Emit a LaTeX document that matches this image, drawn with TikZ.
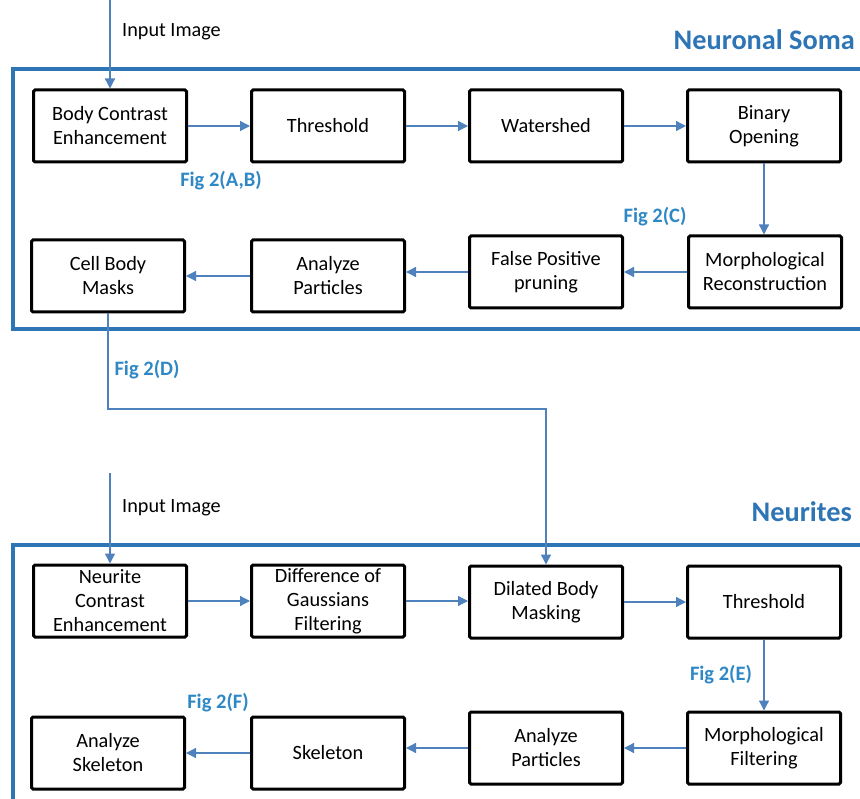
\documentclass[tikz,border=0pt]{standalone}
\usepackage{fontspec}
\setmainfont{Carlito}
\usetikzlibrary{arrows.meta,calc}
\definecolor{arrowblue}{HTML}{4F81BD}
\definecolor{frameblue}{HTML}{2E75B6}
\definecolor{labelblue}{HTML}{2E88C6}
\tikzset{
  stepbox/.style={draw=black, line width=3pt, rounded corners=1.5pt, minimum width=153pt, minimum height=72pt, align=center, font=\fontsize{20.3}{24}\selectfont, inner sep=2pt},
  arr/.style={draw=arrowblue, line width=1.3pt, -{Triangle[length=10pt,width=10pt]}},
  frame/.style={draw=frameblue, line width=3.2pt},
  figlabel/.style={text=labelblue, font=\bfseries\fontsize{20.5}{24}\selectfont, inner sep=0pt},
  title/.style={text=frameblue, font=\bfseries\fontsize{28.3}{32}\selectfont, inner sep=0pt, anchor=east},
  inlabel/.style={font=\fontsize{20.2}{24}\selectfont, inner sep=0pt, anchor=west}
}
\begin{document}
\begin{tikzpicture}[x=1pt,y=-1pt]
\clip (0,0) rectangle (860,799);
\fill[white] (0,0) rectangle (860,799);
% frames
\draw[frame] (880,69) -- (13,69) -- (13,329) -- (880,329);
\draw[frame] (880,545) -- (13,545) -- (13,830);
% titles
\node[title] (t1) at (855,40) {Neuronal Soma};
\node[title] (t2) at (852,512) {Neurites};
% top section
\node[stepbox] (bce) at (110,126) {Body Contrast\\Enhancement};
\node[stepbox] (thr) at (328,126) {Threshold};
\node[stepbox] (ws) at (546,126) {Watershed};
\node[stepbox] (bo) at (764,126) {Binary\\Opening};
\node[stepbox] (cbm) at (108,276) {Cell Body\\Masks};
\node[stepbox] (ap1) at (328,276) {Analyze\\Particles};
\node[stepbox] (fpp) at (546,272) {False Positive\\pruning};
\node[stepbox] (mr) at (765,272) {Morphological\\Reconstruction};
\coordinate (in1) at (110,0);
\node[inlabel] (il1) at (122,32) {Input Image};
\draw[arr] (in1) -- (bce.north);
\draw[arr] (bce) -- (thr);
\draw[arr] (thr) -- (ws);
\draw[arr] (ws) -- (bo);
\draw[arr] (bo.south) -- (bo.south |- mr.north);
\draw[arr] (mr) -- (fpp);
\draw[arr] (fpp.west) -- (fpp.west -| ap1.east);
\draw[arr] (ap1) -- (cbm);
\node[figlabel] (fab) at (221,181) {Fig 2(A,B)};
\node[figlabel] (fc) at (655,217) {Fig 2(C)};
\node[figlabel] (fd) at (147,370) {Fig 2(D)};
% bottom section
\node[stepbox] (nce) at (110,601) {Neurite\\Contrast\\Enhancement};
\node[stepbox] (dog) at (328,601) {Difference of\\Gaussians\\Filtering};
\node[stepbox] (dbm) at (546,602) {Dilated Body\\Masking};
\node[stepbox] (thr2) at (764,602) {Threshold};
\node[stepbox] (ask) at (108,753) {Analyze\\Skeleton};
\node[stepbox] (sk) at (328,753) {Skeleton};
\node[stepbox] (ap2) at (546,748) {Analyze\\Particles};
\node[stepbox] (mf) at (764,748) {Morphological\\Filtering};
\coordinate (in2) at (110,473);
\node[inlabel] (il2) at (122,508) {Input Image};
\draw[arr] (in2) -- (nce.north);
\draw[arr] (nce) -- (dog);
\draw[arr] (dog.east) -- (dog.east -| dbm.west);
\draw[arr] (dbm) -- (thr2);
\draw[arr] (thr2.south) -- (thr2.south |- mf.north);
\draw[arr] (mf) -- (ap2);
\draw[arr] (ap2.west) -- (ap2.west -| sk.east);
\draw[arr] (sk) -- (ask);
\coordinate (turn) at (546,409);
\draw[arr] (cbm.south) |- (turn) -- (dbm.north);
\node[figlabel] (fe) at (721,675) {Fig 2(E)};
\node[figlabel] (ff) at (218,703) {Fig 2(F)};
\end{tikzpicture}
\end{document}
